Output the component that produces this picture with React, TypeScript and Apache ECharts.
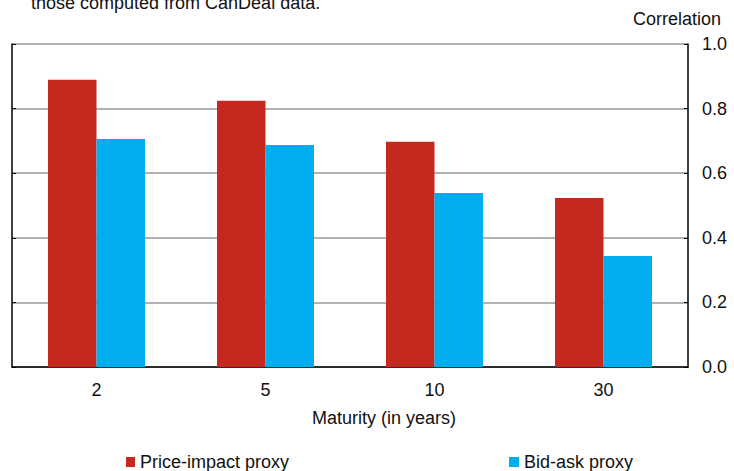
import React, { useEffect, useRef } from "react";
import * as echarts from "echarts";

const categories = ["2", "5", "10", "30"];
const priceImpact = [0.889, 0.824, 0.697, 0.523];
const bidAsk = [0.706, 0.687, 0.539, 0.344];
const yTicks = [0, 0.2, 0.4, 0.6, 0.8, 1.0];

const FONT = "Liberation Sans, Arial, sans-serif";
const FS = 18;

export default function App() {
  const ref = useRef<HTMLDivElement>(null);
  useEffect(() => {
    if (!ref.current) return;
    const chart = echarts.init(ref.current, null, { renderer: "svg" });
    chart.setOption({
      animation: false,
      textStyle: { fontFamily: FONT },
      grid: { left: 12, right: 46, top: 44, bottom: 104, containLabel: false },
      graphic: [
        {
          type: "text",
          left: 31,
          top: -6,
          style: { text: "those computed from CanDeal data.", font: `${FS}px ${FONT}`, fill: "#111" },
        },
        {
          type: "text",
          right: 13,
          top: 10,
          style: { text: "Correlation", font: `${FS}px ${FONT}`, fill: "#111" },
        },
      ],
      legend: [
        {
          data: ["Price-impact proxy"],
          left: 121,
          top: 448,
          icon: "rect",
          itemWidth: 9,
          itemHeight: 10,
          textStyle: { fontSize: FS, color: "#111", fontFamily: FONT },
        },
        {
          data: ["Bid-ask proxy"],
          left: 504,
          top: 448,
          icon: "rect",
          itemWidth: 10,
          itemHeight: 10,
          textStyle: { fontSize: FS, color: "#111", fontFamily: FONT },
        },
      ],
      xAxis: {
        type: "category",
        data: categories,
        axisLine: { show: true, lineStyle: { color: "#000", width: 1.5 } },
        axisTick: { show: false },
        axisLabel: { fontSize: FS, color: "#111", margin: 14, fontFamily: FONT },
        name: "Maturity (in years)",
        nameLocation: "middle",
        nameGap: 42,
        nameTextStyle: { fontSize: FS, color: "#111", fontFamily: FONT, padding: [0, 0, 0, 68] },
      },
      yAxis: [
        {
          type: "value",
          position: "right",
          min: 0,
          max: 1,
          interval: 0.2,
          axisLine: { show: true, lineStyle: { color: "#000", width: 1.5 } },
          axisTick: { show: true, inside: true, length: 4, lineStyle: { color: "#000" } },
          axisLabel: {
            fontSize: FS,
            color: "#111",
            margin: 14,
            fontFamily: FONT,
            formatter: (v: number) => (yTicks.includes(Math.round(v * 10) / 10) ? v.toFixed(1) : ""),
          },
          splitLine: { show: true, lineStyle: { color: "#999", width: 1.5 } },
        },
        {
          type: "value",
          position: "left",
          min: 0,
          max: 1,
          interval: 0.2,
          axisLine: { show: true, lineStyle: { color: "#000", width: 1.5 } },
          axisTick: { show: true, inside: true, length: 4, lineStyle: { color: "#000" } },
          axisLabel: { show: false },
          splitLine: { show: false },
        },
      ],
      series: [
        {
          name: "Price-impact proxy",
          type: "bar",
          data: priceImpact,
          itemStyle: { color: "#C4291F" },
          barWidth: "28.7%",
          barGap: "0%",
        },
        {
          name: "Bid-ask proxy",
          type: "bar",
          data: bidAsk,
          itemStyle: { color: "#00AEEF" },
          barWidth: "28.7%",
          barGap: "0%",
        },
      ],
    });
    return () => chart.dispose();
  }, []);
  return <div ref={ref} style={{ width: 734, height: 471, position: "absolute", left: 0, top: 0 }} />;
}
